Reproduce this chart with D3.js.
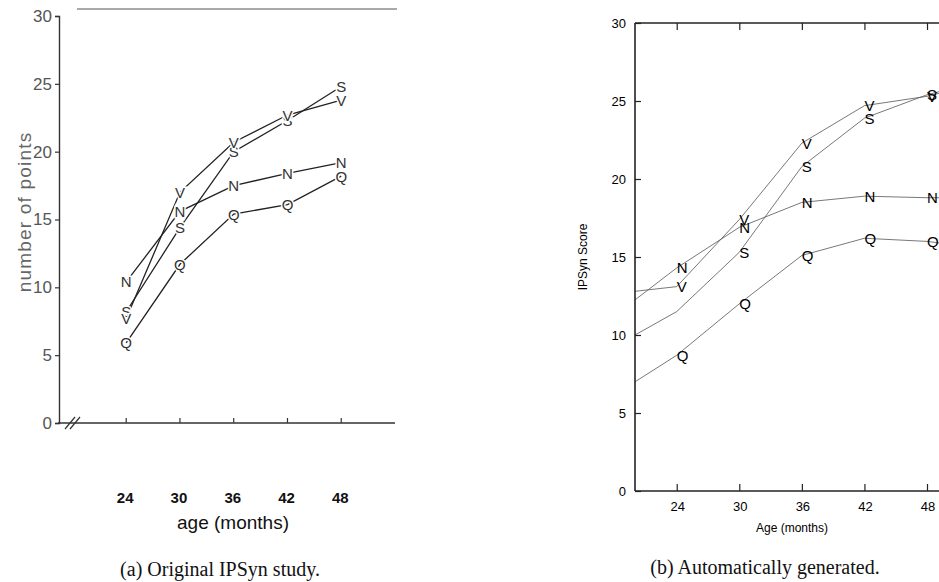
<!DOCTYPE html>
<html>
<head>
<meta charset="utf-8">
<script src="https://cdn.jsdelivr.net/npm/d3@7"></script>
<style>
  body { margin: 0; background: #fff; }
  svg text { font-family: "Liberation Sans", Arial, sans-serif; }
  .caption { font-family: "Liberation Serif", "Times New Roman", serif; font-size: 20px; fill: #111; }
</style>
</head>
<body>
<div id="chart"></div>
<script>
// ---- data: (a) original study ----
var origMonths = [24, 30, 36, 42, 48];
var origS = [8.2, 14.4, 20.0, 22.3, 24.8];
var origV = [7.7, 17.0, 20.7, 22.7, 23.8];
var origN = [10.4, 15.6, 17.5, 18.4, 19.2];
var origQ = [5.9, 11.7, 15.4, 16.1, 18.2];
var origTicksY = [0, 5, 10, 15, 20, 25, 30];

// ---- data: (b) automatically generated ----
var autoMonths = [20, 24, 30, 36, 42, 48, 49.2];
var autoS = [10.0, 11.5, 15.3, 20.8, 23.9, 25.4, 25.6];
var autoV = [12.8, 13.1, 17.4, 22.3, 24.7, 25.3, 25.5];
var autoN = [12.25, 14.3, 16.9, 18.5, 18.9, 18.8, 18.8];
var autoQ = [7.0, 8.7, 12.0, 15.1, 16.2, 16.0, 15.9];
var autoLabelMonths = [24, 30, 36, 42, 48];
var autoHiddenLabels = ['S24'];   // S has no letter at 24 months
var autoTicksY = [0, 5, 10, 15, 20, 25, 30];

var svg = d3.select('#chart').append('svg')
    .attr('width', 939)
    .attr('height', 582);

// build [{name, pts:[{m, v}]}] from the arrays
function series(months, names, values) {
    return names.map(function(name, i) {
        return { name: name, pts: months.map(function(m, j) { return { m: m, v: values[i][j] }; }) };
    });
}

/* ===================== panel (a) ===================== */
var xa = d3.scaleLinear().domain([16.5, 54]).range([59, 395]);
var ya = d3.scaleLinear().domain([0, 30]).range([423, 16]);
var ga = svg.append('g');

// faint top rule from the scan
ga.append('line')
    .attr('x1', 77).attr('x2', 397).attr('y1', 9).attr('y2', 9)
    .attr('stroke', '#555').attr('stroke-width', 1.2);

// y axis
var yAxisA = ga.append('g')
    .attr('transform', 'translate(59,0)')
    .call(d3.axisLeft(ya).tickValues(origTicksY).tickSize(4).tickPadding(3));
yAxisA.select('.domain').attr('stroke', '#333').attr('stroke-width', 1.4);
yAxisA.selectAll('.tick line').attr('stroke', '#333').attr('stroke-width', 1.2);
yAxisA.selectAll('.tick text').attr('font-size', 17).attr('fill', '#555')
    .style('font-family', '"Liberation Sans", Arial, sans-serif');

// x axis with break marks
ga.append('line')
    .attr('x1', 58).attr('x2', 395).attr('y1', ya(0)).attr('y2', ya(0))
    .attr('stroke', '#333').attr('stroke-width', 1.4);
ga.selectAll('line.brk')
    .data([0, 5])
    .enter()
    .append('line')
    .attr('class', 'brk')
    .attr('x1', function(d) { return 65 + d; })
    .attr('x2', function(d) { return 75 + d; })
    .attr('y1', ya(0) + 6)
    .attr('y2', ya(0) - 6)
    .attr('stroke', '#333').attr('stroke-width', 1.2);
ga.selectAll('line.xt')
    .data(origMonths)
    .enter()
    .append('line')
    .attr('class', 'xt')
    .attr('x1', function(d) { return xa(d); })
    .attr('x2', function(d) { return xa(d); })
    .attr('y1', ya(0))
    .attr('y2', ya(0) - 5)
    .attr('stroke', '#333').attr('stroke-width', 1.2);
ga.selectAll('text.xl')
    .data(origMonths)
    .enter()
    .append('text')
    .attr('class', 'xl')
    .attr('x', function(d) { return xa(d) - 1; })
    .attr('y', 503)
    .attr('text-anchor', 'middle')
    .attr('font-size', 15).attr('font-weight', 'bold').attr('fill', '#111')
    .text(function(d) { return d; });
ga.append('text')
    .attr('x', 233).attr('y', 529)
    .attr('text-anchor', 'middle')
    .attr('font-size', 19).attr('fill', '#111')
    .text('age (months)');
ga.append('text')
    .attr('transform', 'translate(31,212) rotate(-90)')
    .attr('text-anchor', 'middle')
    .attr('font-size', 19).attr('fill', '#666')
    .attr('letter-spacing', 1.2)
    .text('number of points');

var dataA = series(origMonths, ['S', 'V', 'N', 'Q'], [origS, origV, origN, origQ]);
var lineA = d3.line().x(function(d) { return xa(d.m); }).y(function(d) { return ya(d.v); });
ga.selectAll('path.sa')
    .data(dataA)
    .enter()
    .append('path')
    .attr('class', 'sa')
    .attr('d', function(d) { return lineA(d.pts); })
    .attr('fill', 'none').attr('stroke', '#222').attr('stroke-width', 1.3);
ga.selectAll('g.la')
    .data(dataA)
    .enter()
    .append('g')
    .attr('class', 'la')
    .selectAll('text')
    .data(function(d) { return d.pts.map(function(p) { return { name: d.name, m: p.m, v: p.v }; }); })
    .enter()
    .append('text')
    .attr('x', function(d) { return xa(d.m); })
    .attr('y', function(d) { return ya(d.v); })
    .attr('text-anchor', 'middle')
    .attr('dominant-baseline', 'central')
    .attr('font-size', 15).attr('fill', '#333')
    .attr('stroke', '#fff').attr('stroke-width', 3).attr('paint-order', 'stroke')
    .text(function(d) { return d.name; });

svg.append('text')
    .attr('class', 'caption')
    .attr('x', 220).attr('y', 576)
    .attr('text-anchor', 'middle')
    .text('(a) Original IPSyn study.');

/* ===================== panel (b) ===================== */
var xb = d3.scaleLinear().domain([20, 49.15]).range([635, 939]);
var yb = d3.scaleLinear().domain([0, 30]).range([491, 23]);
var gb = svg.append('g');

svg.append('clipPath').attr('id', 'clipB')
    .append('rect').attr('x', 635).attr('y', 23).attr('width', 304).attr('height', 468);

var dataB = series(autoMonths, ['S', 'V', 'N', 'Q'], [autoS, autoV, autoN, autoQ]);
var lineB = d3.line().x(function(d) { return xb(d.m); }).y(function(d) { return yb(d.v); });
gb.append('g')
    .attr('clip-path', 'url(#clipB)')
    .selectAll('path')
    .data(dataB)
    .enter()
    .append('path')
    .attr('d', function(d) { return lineB(d.pts); })
    .attr('fill', 'none').attr('stroke', '#555').attr('stroke-width', 0.8);

gb.selectAll('g.lb')
    .data(dataB)
    .enter()
    .append('g')
    .attr('class', 'lb')
    .selectAll('text')
    .data(function(d) {
        return d.pts
            .filter(function(p) { return autoLabelMonths.indexOf(p.m) >= 0 && autoHiddenLabels.indexOf(d.name + p.m) < 0; })
            .map(function(p) { return { name: d.name, m: p.m, v: p.v }; });
    })
    .enter()
    .append('text')
    .attr('x', function(d) { return xb(d.m); })
    .attr('y', function(d) { return yb(d.v); })
    .attr('dominant-baseline', 'central')
    .attr('font-size', 15).attr('fill', '#000')
    .text(function(d) { return d.name; });

// frame: left, bottom, top
var frame = [
    { x1: 635, y1: 23, x2: 635, y2: 491 },
    { x1: 635, y1: 491, x2: 939, y2: 491 },
    { x1: 635, y1: 23, x2: 939, y2: 23 }
];
gb.selectAll('line.fr')
    .data(frame)
    .enter()
    .append('line')
    .attr('class', 'fr')
    .attr('x1', function(d) { return d.x1; })
    .attr('y1', function(d) { return d.y1; })
    .attr('x2', function(d) { return d.x2; })
    .attr('y2', function(d) { return d.y2; })
    .attr('stroke', '#222').attr('stroke-width', 1.6);

// y ticks (inward) and labels
var yAxisB = gb.append('g')
    .attr('transform', 'translate(635,0)')
    .call(d3.axisRight(yb).tickValues(autoTicksY).tickSize(6).tickFormat(''));
yAxisB.select('.domain').remove();
yAxisB.selectAll('.tick line').attr('stroke', '#222').attr('stroke-width', 1.2);
gb.selectAll('text.yl')
    .data(autoTicksY)
    .enter()
    .append('text')
    .attr('class', 'yl')
    .attr('x', 626)
    .attr('y', function(d) { return yb(d); })
    .attr('text-anchor', 'end')
    .attr('dominant-baseline', 'central')
    .attr('font-size', 13).attr('fill', '#000')
    .text(function(d) { return d; });

// x ticks on bottom and top, inward
var xAxisB = gb.append('g')
    .attr('transform', 'translate(0,491)')
    .call(d3.axisTop(xb).tickValues(autoLabelMonths).tickSize(7).tickFormat(''));
xAxisB.select('.domain').remove();
var xAxisBTop = gb.append('g')
    .attr('transform', 'translate(0,23)')
    .call(d3.axisBottom(xb).tickValues(autoLabelMonths).tickSize(7).tickFormat(''));
xAxisBTop.select('.domain').remove();
gb.selectAll('.tick line').attr('stroke', '#222').attr('stroke-width', 1.2);

gb.selectAll('text.xb')
    .data(autoLabelMonths)
    .enter()
    .append('text')
    .attr('class', 'xb')
    .attr('x', function(d) { return xb(d) + 1; })
    .attr('y', 506)
    .attr('text-anchor', 'middle')
    .attr('dominant-baseline', 'central')
    .attr('font-size', 13).attr('fill', '#000')
    .text(function(d) { return d; });
gb.append('text')
    .attr('x', 792).attr('y', 532)
    .attr('text-anchor', 'middle')
    .attr('font-size', 12).attr('fill', '#000')
    .text('Age (months)');
gb.append('text')
    .attr('transform', 'translate(587,257) rotate(-90)')
    .attr('text-anchor', 'middle')
    .attr('font-size', 12).attr('fill', '#000')
    .text('IPSyn Score');

svg.append('text')
    .attr('class', 'caption')
    .attr('x', 765).attr('y', 574)
    .attr('text-anchor', 'middle')
    .text('(b) Automatically generated.');
</script>
</body>
</html>
